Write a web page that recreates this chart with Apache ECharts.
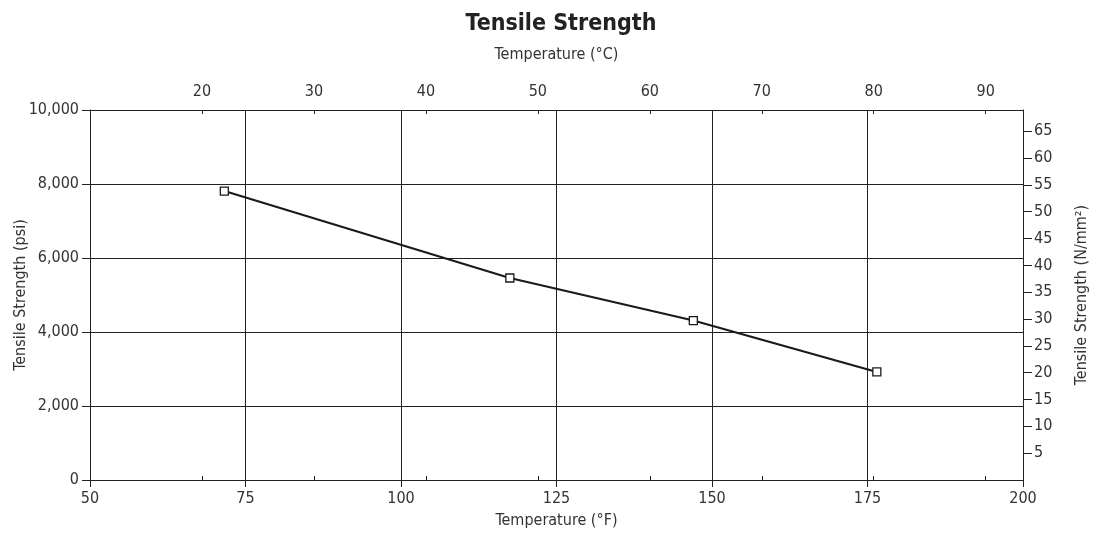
<!DOCTYPE html>
<html>
<head>
<meta charset="utf-8">
<title>Tensile Strength</title>
<script src="https://cdn.jsdelivr.net/npm/echarts@6/dist/echarts.min.js"></script>
<style>
  html, body { margin: 0; padding: 0; background: #fff; }
  #chart { width: 1098px; height: 539px; }
</style>
</head>
<body>
<div id="chart"></div>
<script>
// Measured points: temperature in °F and tensile strength in psi
const temperatureF = [71.6, 117.5, 147, 176.5];
const strengthPsi = [7810, 5460, 4310, 2920];

// Tick values for each scale
const fahrenheitTicks = [50, 75, 100, 125, 150, 175, 200];
const psiTicks = [0, 2000, 4000, 6000, 8000, 10000];
const celsiusTicks = [20, 30, 40, 50, 60, 70, 80, 90];
const newtonTicks = [5, 10, 15, 20, 25, 30, 35, 40, 45, 50, 55, 60, 65];

// Unit conversions used to line the secondary scales up with the primary ones
const F_MIN = 50, F_MAX = 200, PSI_MIN = 0, PSI_MAX = 10000;
const PSI_PER_NMM2 = 145.038;
const toC = f => (f - 32) / 1.8;

const FONT = '"Liberation Sans Narrow", "DejaVu Sans Condensed", "Arial Narrow", sans-serif';
const INK = '#222';
const LABEL = { fontFamily: FONT, fontSize: 16, color: '#333' };
const NAME = { fontFamily: FONT, fontSize: 16, color: '#333' };
const AXIS_LINE = { show: true, lineStyle: { color: INK, width: 1 } };

const chart = echarts.init(document.getElementById('chart'), null, { renderer: 'canvas' });

chart.setOption({
  animation: false,
  backgroundColor: '#fff',
  title: {
    text: 'Tensile Strength',
    left: 556,
    textAlign: 'center',
    top: 8,
    textStyle: { fontFamily: FONT, fontSize: 23, fontWeight: 'bold', color: INK }
  },
  grid: { left: 90, right: 75, top: 110, bottom: 59, containLabel: false, outerBoundsMode: 'none' },
  xAxis: [
    {
      type: 'value',
      position: 'bottom',
      min: F_MIN, max: F_MAX, interval: 25,
      name: 'Temperature (°F)',
      nameLocation: 'middle',
      nameGap: 33,
      nameMoveOverlap: false,
      nameTextStyle: NAME,
      axisLine: AXIS_LINE,
      axisTick: { show: true, inside: false, length: 7, lineStyle: { color: INK } },
      axisLabel: Object.assign({ margin: 11, customValues: fahrenheitTicks }, LABEL),
      splitLine: { show: true, lineStyle: { color: INK, width: 1 } }
    },
    {
      type: 'value',
      position: 'top',
      min: toC(F_MIN), max: toC(F_MAX),
      name: 'Temperature (°C)',
      nameLocation: 'middle',
      nameGap: 47,
      nameMoveOverlap: false,
      nameTextStyle: NAME,
      axisLine: AXIS_LINE,
      axisTick: { show: true, inside: false, length: 4, customValues: celsiusTicks, lineStyle: { color: INK } },
      axisLabel: Object.assign({ margin: 10, customValues: celsiusTicks }, LABEL),
      splitLine: { show: false }
    },
    {
      // inner half of the °C ticks, so they cross the top border
      type: 'value',
      position: 'top',
      min: toC(F_MIN), max: toC(F_MAX),
      axisLine: { show: false },
      axisTick: { show: true, inside: true, length: 4, customValues: celsiusTicks, lineStyle: { color: INK } },
      axisLabel: { show: false },
      splitLine: { show: false }
    }
  ],
  yAxis: [
    {
      type: 'value',
      position: 'left',
      min: PSI_MIN, max: PSI_MAX, interval: 2000,
      name: 'Tensile Strength (psi)',
      nameLocation: 'middle',
      nameGap: 61,
      nameMoveOverlap: false,
      nameTextStyle: NAME,
      axisLine: AXIS_LINE,
      axisTick: { show: true, inside: false, length: 8, customValues: psiTicks, lineStyle: { color: INK } },
      axisLabel: Object.assign({
        margin: 11,
        customValues: psiTicks,
        formatter: v => v.toLocaleString('en-US')
      }, LABEL),
      splitLine: { show: true, lineStyle: { color: INK, width: 1 } }
    },
    {
      type: 'value',
      position: 'right',
      min: PSI_MIN / PSI_PER_NMM2, max: PSI_MAX / PSI_PER_NMM2,
      name: 'Tensile Strength (N/mm²)',
      nameLocation: 'middle',
      nameGap: 51,
      nameMoveOverlap: false,
      nameTextStyle: NAME,
      axisLine: AXIS_LINE,
      axisTick: { show: true, inside: false, length: 9, customValues: newtonTicks, lineStyle: { color: INK } },
      axisLabel: Object.assign({ margin: 11, customValues: newtonTicks }, LABEL),
      splitLine: { show: false }
    }
  ],
  series: [
    {
      type: 'line',
      xAxisIndex: 0,
      yAxisIndex: 0,
      data: temperatureF.map((t, i) => [t, strengthPsi[i]]),
      lineStyle: { color: '#1a1a1a', width: 2.2 },
      symbol: 'rect',
      symbolSize: 8,
      showAllSymbol: true,
      itemStyle: { color: '#fff', borderColor: '#1a1a1a', borderWidth: 1.3 },
      z: 5
    }
  ]
});
</script>
</body>
</html>
